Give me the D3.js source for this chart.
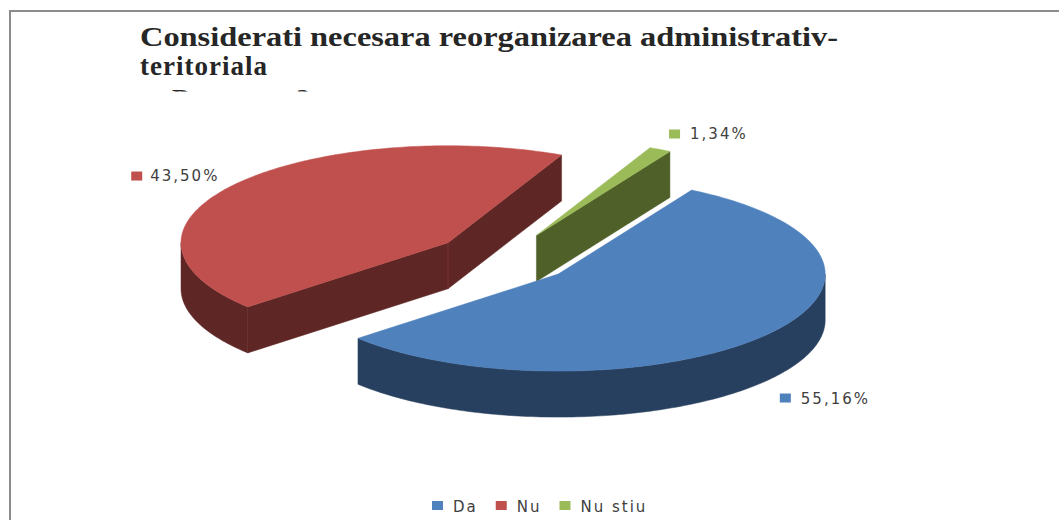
<!DOCTYPE html>
<html lang="ro">

<head>
   <meta charset="UTF-8">
   <title>Reorganizare administrativ-teritoriala</title>
   <script src="https://d3js.org/d3.v7.min.js"></script>
   <style>
      body { margin: 0; background: #fff; }
   </style>
</head>

<body>
   <script>

      // chart data
      const categories = ['Da', 'Nu', 'Nu stiu'];
      const values = [55.16, 43.50, 1.34];
      const labels = ['55,16%', '43,50%', '1,34%'];
      const titleLines = ['Considerati necesara reorganizarea administrativ-', 'teritoriala', 'Da sau nu?'];

      const topColors = ['#4F81BD', '#C0504D', '#9BBB59'];
      const sideColors = ['#28405F', '#5E2725', '#4F6029'];

      const W = 1059, H = 520;
      const svg = d3.select('body').append('svg').attr('width', W).attr('height', H).style('display', 'block');

      // chart frame (only top and left edges are in the picture)
      svg.append('rect')
         .attr('x', 10).attr('y', 11).attr('width', W).attr('height', H)
         .attr('fill', 'none').attr('stroke', '#8c8c8c').attr('stroke-width', 2);

      // title, third line is cut off by the plot area
      svg.append('clipPath').attr('id', 'titleClip')
         .append('rect').attr('x', 0).attr('y', 0).attr('width', W).attr('height', 91.5);

      const title = svg.append('g').attr('clip-path', 'url(#titleClip)')
         .attr('font-family', '"Liberation Serif", "Times New Roman", serif')
         .attr('font-weight', 'bold').attr('font-size', 27).attr('fill', '#262626');

      title.append('text').attr('x', 140).attr('y', 46)
         .attr('textLength', 698).attr('lengthAdjust', 'spacingAndGlyphs')
         .text(titleLines[0]);
      title.append('text').attr('x', 140).attr('y', 74.5).attr('letter-spacing', 1).text(titleLines[1]);
      title.append('text').attr('x', 172).attr('y', 108).attr('letter-spacing', 1).text(titleLines[2]);

      // 3d pie geometry
      const cx0 = 504, cy0 = 258;
      const R = 267, ry = 97, depth = 46, explode = 70;
      const k = ry / R;
      const rot = 30 * Math.PI / 180;

      const pie = d3.pie().sort(null).value(d => d)
         .startAngle(rot).endAngle(rot + 2 * Math.PI);

      const slices = pie(values).map((d, i) => {
         const m = (d.startAngle + d.endAngle) / 2;
         return { ...d, i, mid: m, c: [cx0 + explode * Math.sin(m), cy0 - explode * k * Math.cos(m)] };
      });

      const pt = (c, a, h) => [c[0] + R * Math.sin(a), c[1] - R * k * Math.cos(a) + h];

      const arcPts = (c, a0, a1, h) => {
         const n = Math.max(2, Math.ceil((a1 - a0) / (Math.PI / 180)));
         return d3.range(n + 1).map(j => pt(c, a0 + (a1 - a0) * j / n, h));
      };

      const line = d3.line().curve(d3.curveLinearClosed);

      const pieG = svg.append('g');

      // back slices first
      slices.slice().sort((a, b) => a.c[1] - b.c[1]).forEach(d => {
         const g = pieG.append('g');
         const c = d.c, a0 = d.startAngle, a1 = d.endAngle;
         const side = sideColors[d.i];

         const cutFace = a => [c, pt(c, a, 0), pt(c, a, depth), [c[0], c[1] + depth]];

         // radial faces that face the viewer
         if (Math.sin(a0) < 0) {
            g.append('path').attr('d', line(cutFace(a0))).attr('fill', side).attr('stroke', side).attr('stroke-width', 0.5);
         }
         if (Math.sin(a1) > 0) {
            g.append('path').attr('d', line(cutFace(a1))).attr('fill', side).attr('stroke', side).attr('stroke-width', 0.5);
         }

         // outer wall, front half only
         [0, 1].forEach(t => {
            const lo = Math.max(a0, Math.PI / 2 + 2 * Math.PI * t);
            const hi = Math.min(a1, 3 * Math.PI / 2 + 2 * Math.PI * t);
            if (hi > lo) {
               const pts = arcPts(c, lo, hi, 0).concat(arcPts(c, lo, hi, depth).reverse());
               g.append('path').attr('d', line(pts)).attr('fill', side).attr('stroke', side).attr('stroke-width', 0.5);
            }
         });

         // vertical edge at the apex
         if (Math.sin(a0) < 0 && Math.sin(a1) > 0) {
            g.append('line')
               .attr('x1', c[0]).attr('y1', c[1]).attr('x2', c[0]).attr('y2', c[1] + depth)
               .attr('stroke', d3.color(side).brighter(0.8)).attr('stroke-width', 1);
         }

         // top face
         g.append('path')
            .attr('d', line([c].concat(arcPts(c, a0, a1, 0))))
            .attr('fill', topColors[d.i]).attr('stroke', topColors[d.i]).attr('stroke-width', 0.5);
      });

      // data labels
      const labelFont = '"DejaVu Sans", Verdana, sans-serif';
      const labelOffsets = [[15, 12], [-16, -9], [9, -20]];

      slices.forEach(d => {
         const front = Math.cos(d.mid) < 0;
         const p = pt(d.c, d.mid, front ? depth : 0);
         const [dx, dy] = labelOffsets[d.i];
         const g = svg.append('g');
         const txt = g.append('text')
            .attr('font-family', labelFont).attr('font-size', 15).attr('letter-spacing', 2)
            .attr('fill', '#404040')
            .text(labels[d.i]);
         const w = txt.node().getComputedTextLength();
         if (Math.sin(d.mid) < 0) {
            // label on the left: text ends at the offset point
            txt.attr('x', p[0] + dx - w + 1).attr('y', p[1] + dy + 5);
            g.append('rect').attr('x', p[0] + dx - w - 18).attr('y', p[1] + dy - 4).attr('width', 11).attr('height', 9).attr('fill', topColors[d.i]);
         } else {
            g.append('rect').attr('x', p[0] + dx).attr('y', p[1] + dy).attr('width', 11).attr('height', 9).attr('fill', topColors[d.i]);
            txt.attr('x', p[0] + dx + 21).attr('y', p[1] + dy + 10);
         }
      });

      // legend
      const legend = svg.append('g').attr('transform', 'translate(432, 501)');
      let lx = 0;
      categories.forEach((name, i) => {
         legend.append('rect').attr('x', lx).attr('y', 0).attr('width', 11).attr('height', 9).attr('fill', topColors[i]);
         const t = legend.append('text')
            .attr('x', lx + 21).attr('y', 10.5)
            .attr('font-family', labelFont).attr('font-size', 15).attr('letter-spacing', 2)
            .attr('fill', '#404040')
            .text(name);
         lx += 21 + t.node().getComputedTextLength() + 18;
      });

   </script>
</body>

</html>
